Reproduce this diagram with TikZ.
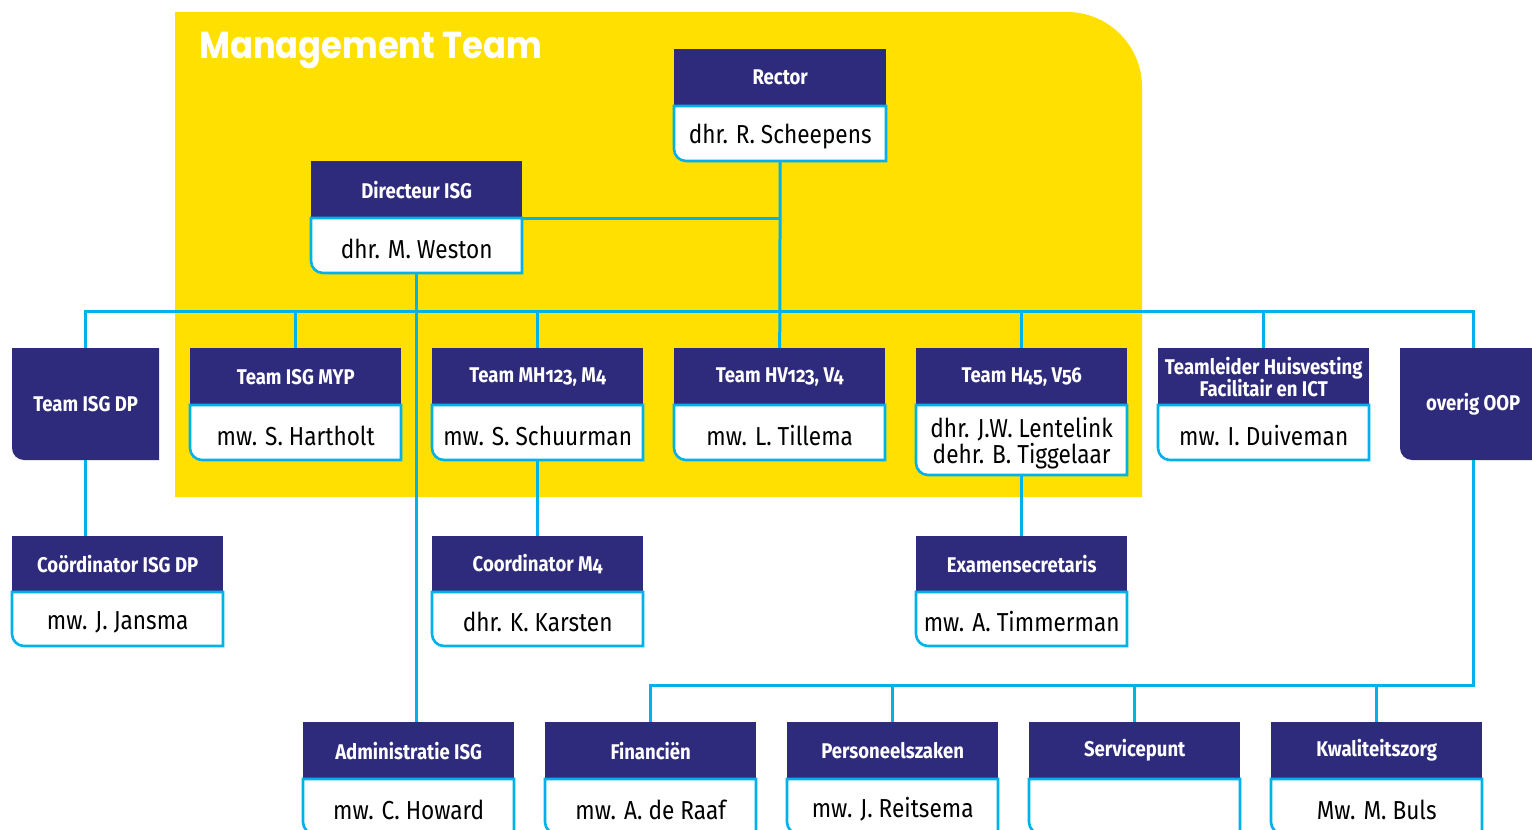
\documentclass[tikz,border=0pt]{standalone}
\usepackage{fontspec}
\setmainfont{Fira Sans}[FakeStretch=0.87, Numbers=OldStyle]
\newfontfamily\mtfont{Poppins}[FakeStretch=0.9]
\definecolor{navy}{HTML}{2E2A7C}
\definecolor{cyanc}{HTML}{00B2E9}
\definecolor{yel}{HTML}{FFE000}
\tikzset{
  hdr/.style={fill=navy, text=white, inner sep=0pt, anchor=north west, align=center,
    font=\fontsize{21.3}{23.5}\selectfont\bfseries},
  hdrtext/.style={text=white, inner sep=0pt, anchor=north west, align=center,
    font=\fontsize{21.3}{23.5}\selectfont\bfseries},
  perframe/.style={inner sep=0pt, anchor=north west},
  pertext/.style={text=black, inner sep=0pt, anchor=center, align=center,
    font=\fontsize{26}{27}\selectfont},
  pbox/.style={fill=white, draw=cyanc, line width=2.6pt},
  conn/.style={draw=cyanc, line width=3pt},
}
% id, x, y, w, header h, person h, title, person
\newcommand\orgbox[8]{%
  \node[hdr, minimum width=#4, minimum height=#5] (#1) at (#2,#3) {#7};
  \path[pbox] (#2,#3+#5) -- (#2,#3+#5+#6-12) .. controls (#2,#3+#5+#6-5.4) and (#2+5.4,#3+#5+#6) .. (#2+12,#3+#5+#6) -- (#2+#4,#3+#5+#6) -- (#2+#4,#3+#5) -- cycle;
  \node[perframe, minimum width=#4, minimum height=#6] (#1p) at (#2,#3+#5) {};
  \node[pertext] (#1t) at ([yshift=-2.8pt]#1p.center) {#8};
}
% id, x, y, w, h, text
\newcommand\navybox[6]{%
  \path[fill=navy] (#2,#3) -- (#2,#3+#5-12) .. controls (#2,#3+#5-5.4) and (#2+5.4,#3+#5) .. (#2+12,#3+#5) -- (#2+#4,#3+#5) -- (#2+#4,#3) -- cycle;
  \node[hdrtext, minimum width=#4, minimum height=#5] (#1) at (#2,#3) {#6};
}
\begin{document}
\begin{tikzpicture}[x=1pt, y=-1pt]
\useasboundingbox (0,0) rectangle (1532,830);
\clip (0,0) rectangle (1532,830);
\fill[white] (0,0) rectangle (1532,830);
% yellow management area
\fill[yel] (175,12) -- (1067,12) .. controls (1108.4,12) and (1142,45.6) .. (1142,87) -- (1142,497) -- (175,497) -- cycle;
\node[text=white, anchor=west, inner sep=0pt, font=\mtfont\fontsize{37.5}{40}\selectfont\bfseries] (mteam) at (199,50) {Management Team};

\coordinate (busy) at (0,311);
\coordinate (lowy) at (0,685);

% boxes
\navybox{dp}{12}{348}{147}{112}{Team ISG DP}
\navybox{oo}{1400}{348}{146}{112}{overig OOP}
\orgbox{rector}{674}{49}{212}{57}{55}{Rector}{dhr. R. Scheepens}
\orgbox{dir}{311}{161}{211}{57}{55}{Directeur ISG}{dhr. M. Weston}
\orgbox{myp}{190}{348}{211}{57}{55}{Team ISG MYP}{mw. S. Hartholt}
\orgbox{mh}{432}{348}{211}{57}{55}{Team MH123, M4}{mw. S. Schuurman}
\orgbox{hv}{674}{348}{211}{57}{55}{Team HV123, V4}{mw. L. Tillema}
\orgbox{hf}{916}{348}{211}{57}{70}{Team H45, V56}{dhr. J.W. Lentelink\\[-0.5pt]dehr. B. Tiggelaar}
\orgbox{tl}{1158}{348}{211}{57}{55}{Teamleider Huisvesting\\[-1.5pt]Facilitair en ICT}{mw. I. Duiveman}
\orgbox{cdp}{12}{536}{211}{56}{54}{Coördinator ISG DP}{mw. J. Jansma}
\orgbox{cm}{432}{536}{211}{56}{54}{Coordinator M4}{dhr. K. Karsten}
\orgbox{ex}{916}{536}{211}{56}{54}{Examensecretaris}{mw. A. Timmerman}
\orgbox{adm}{303}{722}{211}{57}{55}{Administratie ISG}{mw. C. Howard}
\orgbox{fin}{545}{722}{211}{57}{55}{Financiën}{mw. A. de Raaf}
\orgbox{pers}{787}{722}{211}{57}{55}{Personeelszaken}{mw. J. Reitsema}
\orgbox{serv}{1029}{722}{211}{57}{55}{Servicepunt}{}
\orgbox{kw}{1271}{722}{211}{57}{55}{Kwaliteitszorg}{Mw. M. Buls}

% connectors
\draw[conn] (rectorp.south) -- (hv.north);
\draw[conn] (dir.south east) -- (rectorp.south |- dir.south east);
\draw[conn] (dp.north) -- (dp.north |- busy) -- (oo.north |- busy) -- (oo.north);
\draw[conn] (myp.north) -- (myp.north |- busy);
\draw[conn] (mh.north) -- (mh.north |- busy);
\draw[conn] (hf.north) -- (hf.north |- busy);
\draw[conn] (tl.north) -- (tl.north |- busy);
\draw[conn] (dirp.south) -- (dirp.south |- adm.north);
\draw[conn] (dp.south) -- (dp.south |- cdp.north);
\draw[conn] (mhp.south) -- (cm.north);
\draw[conn] (hfp.south) -- (ex.north);
\draw[conn] (oo.south) -- (oo.south |- lowy) -- (fin.north |- lowy) -- (fin.north);
\draw[conn] (pers.north) -- (pers.north |- lowy);
\draw[conn] (serv.north) -- (serv.north |- lowy);
\draw[conn] (kw.north) -- (kw.north |- lowy);
\end{tikzpicture}
\end{document}
